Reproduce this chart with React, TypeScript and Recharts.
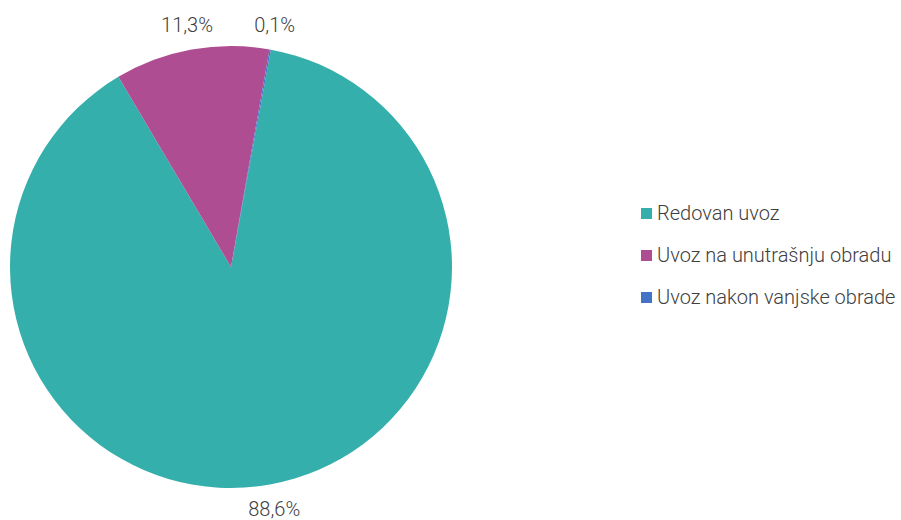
import { Legend, Pie, PieChart } from "recharts";

const categories = [
  "Redovan uvoz",
  "Uvoz na unutrašnju obradu",
  "Uvoz nakon vanjske obrade",
];
const shares = [88.6, 11.3, 0.1];
const colors = ["#35AFAB", "#AE4D91", "#4472C4"];

const data = categories.map((name, i) => ({
  name,
  value: shares[i],
  fill: colors[i],
}));

const FONT = "Roboto, sans-serif";
const RAD = Math.PI / 180;

/* Percentage label placed outside the slice */
const renderLabel = (props: any) => {
  const { cx, cy, midAngle, outerRadius, value } = props;
  const r = outerRadius + 25;
  const x = cx + r * Math.cos(-midAngle * RAD);
  const y = cy + r * Math.sin(-midAngle * RAD);
  return (
    <text
      x={x}
      y={y}
      textAnchor="middle"
      dominantBaseline="central"
      fill="#404040"
      fontFamily={FONT}
      fontWeight={300}
      fontSize={20}
    >
      {value.toFixed(1).replace(".", ",")}%
    </text>
  );
};

const renderLegend = () => (
  <div style={{ fontFamily: FONT, fontWeight: 300, fontSize: 20, color: "#404040" }}>
    {data.map((d) => (
      <div
        key={d.name}
        style={{ display: "flex", alignItems: "center", height: 42, whiteSpace: "nowrap" }}
      >
        <span
          style={{
            display: "inline-block",
            width: 11,
            height: 11,
            background: d.fill,
            marginRight: 5,
          }}
        />
        {d.name}
      </div>
    ))}
  </div>
);

const App = () => (
  <div style={{ position: "absolute", left: 0, top: 0 }}>
    <PieChart width={901} height={520} margin={{ top: 0, right: 0, bottom: 0, left: 0 }}>
      <Pie
        data={data}
        dataKey="value"
        nameKey="name"
        cx={231}
        cy={267}
        outerRadius={221}
        startAngle={79.6}
        endAngle={-280.4}
        stroke="none"
        label={renderLabel}
        labelLine={false}
        isAnimationActive={false}
      />
      <Legend
        content={renderLegend}
        wrapperStyle={{ left: 641, top: 192, width: 260 }}
      />
    </PieChart>
  </div>
);

export default App;
